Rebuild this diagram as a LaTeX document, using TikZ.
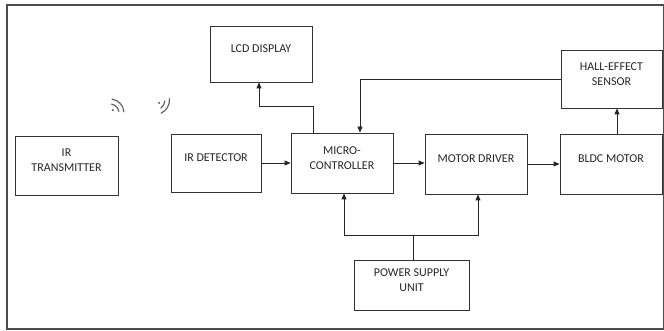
\documentclass[tikz,border=0pt]{standalone}
\usepackage{fontspec}
\setmainfont{Carlito}
\usetikzlibrary{arrows.meta,calc}
\begin{document}
\begin{tikzpicture}[x=1pt,y=-1pt,
  blk/.style 2 args={draw=black!80, line width=0.8pt, minimum width=#1, minimum height=#2, inner sep=0pt},
  txt/.style={align=center, font=\fontsize{12}{15}\selectfont, text=black!85, yshift=5pt},
  arr/.style={-{Triangle[length=6pt,width=5pt]}, line width=0.8pt, draw=black!85},
  wire/.style={line width=0.8pt, draw=black!85},
  wave/.style={line width=1.1pt, draw=black!65, line cap=round}]
\useasboundingbox (0,0) rectangle (664,331);
\draw[black!70, line width=1.2pt] (7,5) rectangle (663.5,329);

\node[blk={102pt}{56pt}, label={[txt]center:LCD DISPLAY}] (lcd) at (261,54) {};
\node[blk={103pt}{59pt}, label={[txt]center:{IR\\TRANSMITTER}}] (irt) at (66.5,165.5) {};
\node[blk={90pt}{58pt}, label={[txt]center:IR DETECTOR}] (ird) at (216,163) {};
\node[blk={102pt}{60pt}, label={[txt]center:{MICRO-\\CONTROLLER}}] (mc) at (342,163) {};
\node[blk={102pt}{60pt}, label={[txt]center:MOTOR DRIVER}] (md) at (476,164) {};
\node[blk={102pt}{60pt}, label={[txt]center:BLDC MOTOR}] (bldc) at (611,164) {};
\node[blk={101pt}{58pt}, label={[txt]center:{HALL-EFFECT\\SENSOR}}] (hall) at (611.5,79) {};
\node[blk={115pt}{50pt}, label={[txt]center:{POWER SUPPLY\\UNIT}}] (psu) at (411.5,285) {};

\coordinate (j) at (413,235);

\draw[arr] (ird) -- (mc);
\draw[arr] (mc.east) -- (mc.east -| md.west);
\draw[arr] (md) -- (bldc);
\draw[arr] ($(bldc.north)+(6,0)$) -- ($(hall.south)+(5.5,0)$);
\draw[arr] (hall.west) -| ($(mc.north)+(18,0)$);
\draw[arr] ($(mc.north)+(-29,0)$) -- ++(0,-26) -| ($(lcd.south)+(-2,0)$);
\draw[wire] (psu.north -| j) -- (j);
\draw[arr] (j) -| ($(mc.south)+(2,0)$);
\draw[arr] (j) -| ($(md.south)+(2,0)$);

\begin{scope}[shift={(110,113)}, y=1pt]
  \draw[wave] (82:14) arc[start angle=82, end angle=5, radius=14];
  \draw[wave] (80:9) arc[start angle=80, end angle=10, radius=9];
  \fill[black!65] (45:4) circle[radius=1.1];
\end{scope}
\begin{scope}[shift={(155,100)}, y=1pt]
  \draw[wave] (5:14.5) arc[start angle=5, end angle=-65, radius=14.5];
  \draw[wave] (-5:10) arc[start angle=-5, end angle=-55, radius=10];
  \fill[black!65] (-35:5) circle[radius=1.1];
\end{scope}
\end{tikzpicture}
\end{document}
